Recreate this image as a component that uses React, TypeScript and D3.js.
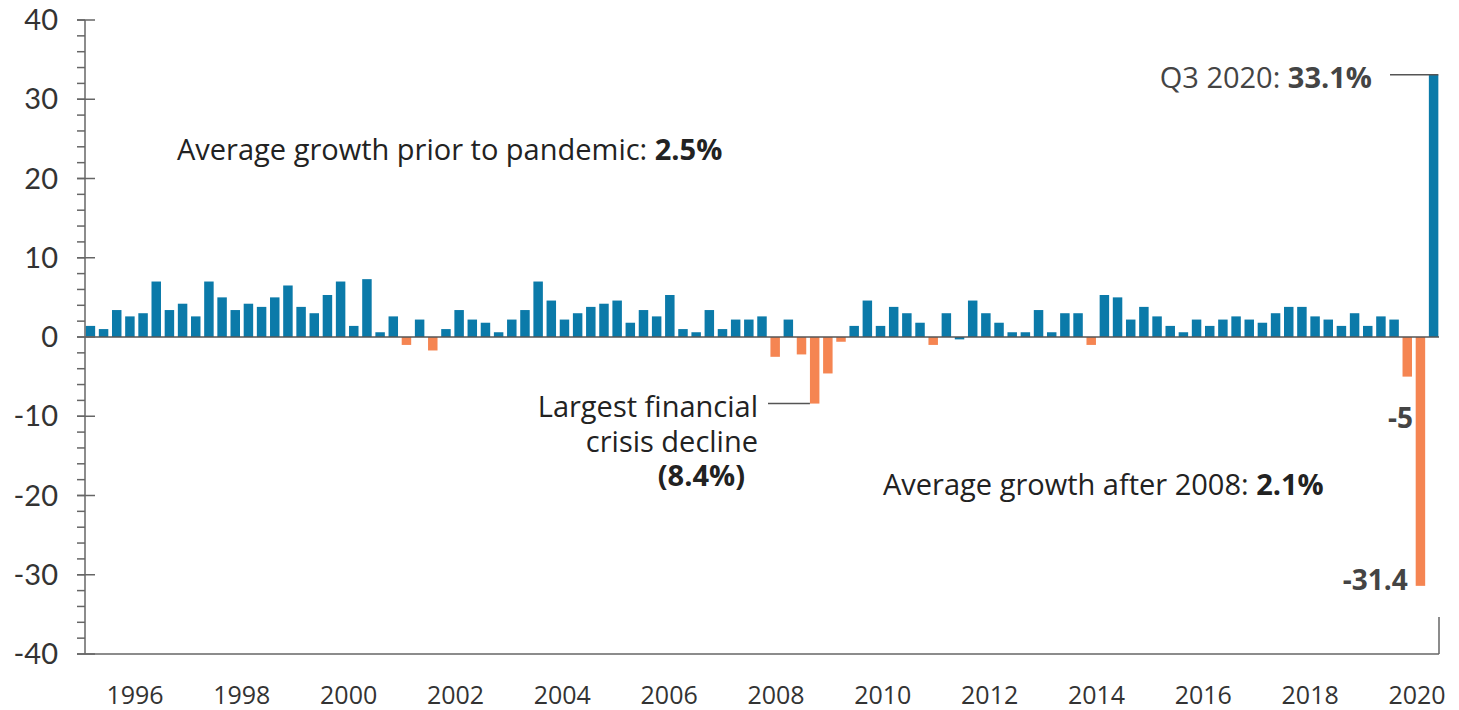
import React from 'react';
import * as d3 from 'd3';

// Quarterly GDP growth (annualized, %), 1995 Q1 – 2020 Q3
const years = d3.range(1995, 2021);
const growth = [
  1.4, 1.0, 3.4, 2.6,
  3.0, 7.0, 3.4, 4.2,
  2.6, 7.0, 5.0, 3.4,
  4.2, 3.8, 5.0, 6.5,
  3.8, 3.0, 5.3, 7.0,
  1.4, 7.3, 0.6, 2.6,
  -1.0, 2.2, -1.7, 1.0,
  3.4, 2.2, 1.8, 0.6,
  2.2, 3.4, 7.0, 4.6,
  2.2, 3.0, 3.8, 4.2,
  4.6, 1.8, 3.4, 2.6,
  5.3, 1.0, 0.6, 3.4,
  1.0, 2.2, 2.2, 2.6,
  -2.5, 2.2, -2.2, -8.4,
  -4.6, -0.6, 1.4, 4.6,
  1.4, 3.8, 3.0, 1.8,
  -1.0, 3.0, -0.3, 4.6,
  3.0, 1.8, 0.6, 0.6,
  3.4, 0.6, 3.0, 3.0,
  -1.0, 5.3, 5.0, 2.2,
  3.8, 2.6, 1.4, 0.6,
  2.2, 1.4, 2.2, 2.6,
  2.2, 1.8, 3.0, 3.8,
  3.8, 2.6, 2.2, 1.4,
  3.0, 1.4, 2.6, 2.2,
  -5.0, -31.4, 33.1,
];
const quarters = years.flatMap((y) => [1, 2, 3, 4].map((q) => `${y} Q${q}`)).slice(0, growth.length);
const yearTicks = d3.range(1996, 2021, 2);
const yTicks = d3.range(-40, 41, 10);
const yMinorTicks = d3.range(-40, 41, 2);

const BLUE = '#0b7aa9';
const ORANGE = '#f58552';
const AXIS = '#666';
const TICK_FONT = 'Lato, sans-serif';
const NOTE_FONT = "'Open Sans', sans-serif";
const NOTE_SIZE = 29;

const W = 1459;
const H = 710;
const left = 85;
const right = 1439;
const top = 20;
const bottom = 654;

const App: React.FC = () => {
  const x = d3.scaleBand<string>().domain(quarters).range([left, right]).paddingInner(0.28).paddingOuter(0.05);
  const y = d3.scaleLinear().domain([-40, 40]).range([bottom, top]);
  // year labels sit on their own evenly spaced scale
  const xYear = d3.scaleLinear().domain([1996, 2020]).range([135, 1417]);

  const idx = (label: string) => quarters.indexOf(label);
  const q3 = '2020 Q3';
  const q2 = '2020 Q2';
  const q1 = '2020 Q1';
  const crisis = '2008 Q4';

  // tiny dips (under half a point) stay blue, as in the original
  const barColor = (v: number) => (v > -0.5 ? BLUE : ORANGE);

  return (
    <div style={{ position: 'absolute', left: 0, top: 0 }}>
      <svg width={W} height={H} style={{ display: 'block', background: '#fff' }}>
        {/* bars */}
        {growth.map((v, i) => (
          <rect
            key={quarters[i]}
            x={x(quarters[i])}
            y={y(Math.max(0, v))}
            width={x.bandwidth()}
            height={Math.abs(y(v) - y(0))}
            fill={barColor(v)}
          />
        ))}

        {/* zero line */}
        <line x1={left} x2={right} y1={y(0)} y2={y(0)} stroke="#555" strokeWidth={1.5} />

        {/* y axis */}
        <line x1={left} x2={left} y1={y(40)} y2={y(-40)} stroke={AXIS} strokeWidth={1.5} />
        {yMinorTicks.map((t) => (
          <line key={`m${t}`} x1={left - 8} x2={left} y1={y(t)} y2={y(t)} stroke={AXIS} strokeWidth={1.5} />
        ))}
        {yTicks.map((t) => (
          <g key={t}>
            <line x1={left - 8} x2={left + 10} y1={y(t)} y2={y(t)} stroke={AXIS} strokeWidth={1.5} />
            <text
              x={58}
              y={y(t)}
              dy="0.35em"
              textAnchor="end"
              fontFamily={TICK_FONT}
              fontSize={29}
              fill="#333"
            >
              {t}
            </text>
          </g>
        ))}

        {/* bottom axis and right edge */}
        <line x1={left} x2={right} y1={bottom} y2={bottom} stroke={AXIS} strokeWidth={1.5} />
        <line x1={right} x2={right} y1={617} y2={bottom} stroke={AXIS} strokeWidth={1.5} />
        {yearTicks.map((yr) => (
          <text
            key={yr}
            x={xYear(yr)}
            y={704}
            textAnchor="middle"
            fontFamily="'Open Sans', sans-serif"
            fontSize={25}
            fill="#333"
          >
            {yr}
          </text>
        ))}

        {/* annotations */}
        <text x={177} y={160} fontFamily={NOTE_FONT} fontSize={NOTE_SIZE} fill="#222">
          Average growth prior to pandemic: <tspan fontWeight="bold">2.5%</tspan>
        </text>
        <text x={883} y={495} fontFamily={NOTE_FONT} fontSize={NOTE_SIZE} fill="#222">
          Average growth after 2008: <tspan fontWeight="bold">2.1%</tspan>
        </text>

        <line
          x1={1390}
          x2={(x(q3) ?? 0) + x.bandwidth()}
          y1={y(growth[idx(q3)])}
          y2={y(growth[idx(q3)])}
          stroke="#555"
          strokeWidth={1.5}
        />
        <text x={1372} y={88} textAnchor="end" fontFamily={NOTE_FONT} fontSize={NOTE_SIZE} fill="#444">
          Q3 2020: <tspan fontWeight="bold">33.1%</tspan>
        </text>

        <text x={(x(q1) ?? 0) + x.bandwidth() + 1} y={428} textAnchor="end" fontFamily={NOTE_FONT} fontSize={28} fontWeight="bold" fill="#444">
          {growth[idx(q1)]}
        </text>
        <text x={(x(q2) ?? 0) - 8} y={590} textAnchor="end" fontFamily={NOTE_FONT} fontSize={28} fontWeight="bold" fill="#444">
          {growth[idx(q2)]}
        </text>

        <line
          x1={768}
          x2={x(crisis) ?? 0}
          y1={y(growth[idx(crisis)])}
          y2={y(growth[idx(crisis)])}
          stroke="#555"
          strokeWidth={1.5}
        />
        <text fontFamily={NOTE_FONT} fontSize={NOTE_SIZE} fill="#222" textAnchor="end">
          <tspan x={758} y={417}>Largest financial</tspan>
          <tspan x={758} y={452}>crisis decline</tspan>
          <tspan x={745} y={486} fontWeight="bold">(8.4%)</tspan>
        </text>
      </svg>
    </div>
  );
};

export default App;
